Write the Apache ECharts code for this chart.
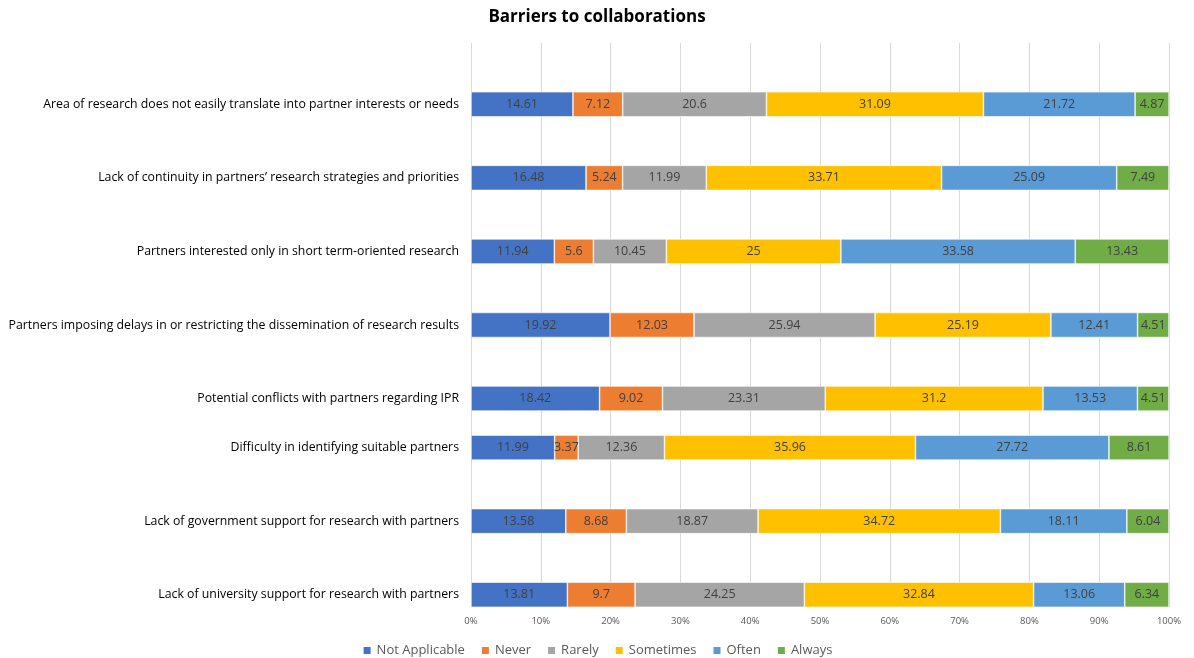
<!DOCTYPE html>
<html>
<head>
<meta charset="utf-8">
<script src="https://cdn.jsdelivr.net/npm/echarts@6/dist/echarts.min.js"></script>
<style>
  html, body { margin: 0; padding: 0; background: #fff; }
  #chart { width: 1194px; height: 658px; }
</style>
</head>
<body>
<div id="chart"></div>
<script>
// Barrier statements, listed top to bottom
const categories = [
  'Area of research does not easily translate into partner interests or needs',
  'Lack of continuity in partners\u2019 research strategies and priorities',
  'Partners interested only in short term-oriented research',
  'Partners imposing delays in or restricting the dissemination of research results',
  'Potential conflicts with partners regarding IPR',
  'Difficulty in identifying suitable partners',
  'Lack of government support for research with partners',
  'Lack of university support for research with partners'
];

// Share of responses (%) per answer
const notApplicable = [14.61, 16.48, 11.94, 19.92, 18.42, 11.99, 13.58, 13.81];
const never         = [7.12, 5.24, 5.6, 12.03, 9.02, 3.37, 8.68, 9.7];
const rarely        = [20.6, 11.99, 10.45, 25.94, 23.31, 12.36, 18.87, 24.25];
const sometimes     = [31.09, 33.71, 25, 25.19, 31.2, 35.96, 34.72, 32.84];
const often         = [21.72, 25.09, 33.58, 12.41, 13.53, 27.72, 18.11, 13.06];
const always        = [4.87, 7.49, 13.43, 4.51, 4.51, 8.61, 6.04, 6.34];

const seriesNames = ['Not Applicable', 'Never', 'Rarely', 'Sometimes', 'Often', 'Always'];
const seriesValues = [notApplicable, never, rarely, sometimes, often, always];
const colors = ['#4472C4', '#ED7D31', '#A5A5A5', '#FFC000', '#5B9BD5', '#70AD47'];

// Row layout on the category band: leading empty slots, then the slot step before each row
const leadSlots = 2;
const slotSteps = [0, 3, 3, 3, 3, 2, 3, 3];

const slotOf = [];
let pos = leadSlots;
slotSteps.forEach((s, i) => { pos += s; slotOf[i] = pos; });
const slotCount = pos + 1;

const axisData = new Array(slotCount).fill('');
categories.forEach((c, i) => { axisData[slotOf[i]] = c; });

function spread(values) {
  const out = new Array(slotCount).fill('-');
  values.forEach((v, i) => { out[slotOf[i]] = v; });
  return out;
}

const font = '"Open Sans", "Noto Sans", sans-serif';

const chart = echarts.init(document.getElementById('chart'), null, { renderer: 'canvas' });
chart.setOption({
  animation: false,
  color: colors,
  textStyle: { fontFamily: font },
  title: {
    text: 'Barriers to collaborations',
    left: 'center',
    top: 4,
    textStyle: { fontSize: 17, fontWeight: 'bold', color: '#000', fontFamily: font }
  },
  legend: {
    top: 644,
    left: 'center',
    padding: 0,
    icon: 'rect',
    itemWidth: 9,
    itemHeight: 9,
    itemGap: 15,
    itemTextGap: 4,
    textStyle: { fontSize: 13, color: '#595959', fontFamily: font },
    data: seriesNames
  },
  grid: { left: 471, right: 25, top: 43, bottom: 51, containLabel: false },
  xAxis: {
    type: 'value',
    min: 0,
    max: 100,
    interval: 10,
    axisLine: { show: false },
    axisTick: { show: false },
    axisLabel: { formatter: '{value}%', fontSize: 9.5, color: '#595959', margin: 9, fontFamily: font },
    splitLine: { lineStyle: { color: '#D9D9D9', width: 1 } }
  },
  yAxis: {
    type: 'category',
    inverse: true,
    data: axisData,
    axisLine: { show: false },
    axisTick: { show: false },
    splitLine: { show: false },
    axisLabel: { interval: 0, fontSize: 12.3, color: '#000', margin: 12, fontFamily: font }
  },
  series: seriesNames.map((name, k) => ({
    name: name,
    type: 'bar',
    stack: 'total',
    barWidth: 25,
    data: spread(seriesValues[k]),
    itemStyle: { borderColor: '#fff', borderWidth: 0.6 },
    label: {
      show: true,
      position: 'inside',
      color: '#404040',
      fontSize: 12.5,
      fontFamily: font
    }
  }))
});
</script>
</body>
</html>
